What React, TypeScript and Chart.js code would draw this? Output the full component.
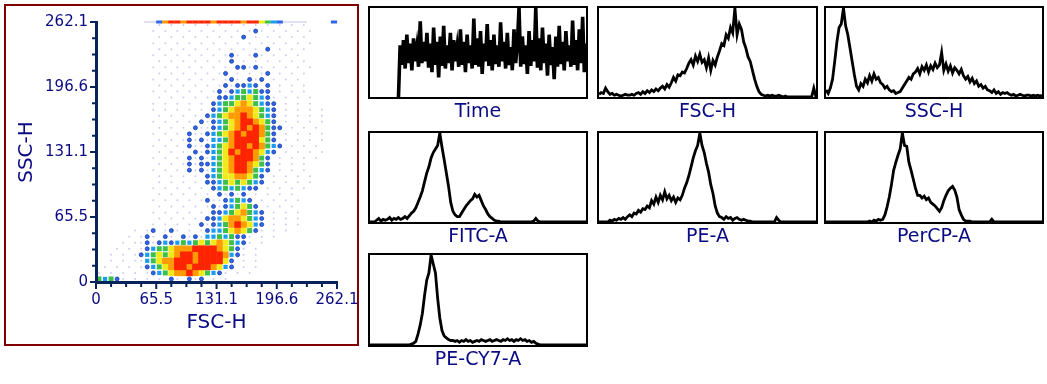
import React, { useEffect, useRef } from "react";
import { Chart, registerables } from "chart.js";

Chart.register(...registerables);

// ---------------- data ----------------
const AXIS_MAX = 262.1;
const AXIS_TICKS = [0, 65.5, 131.1, 196.6, 262.1];
const AXIS_TICK_LABELS = ["0", "65.5", "131.1", "196.6", "262.1"];
const AXIS_MINOR_DIVISIONS = 4;
const X_TITLE = "FSC-H";
const Y_TITLE = "SSC-H";

// density read from the FSC-H / SSC-H dot plot (40 columns, top row first)
// ' ' none, '.' sparse events, 'b' blue, 'c' cyan, 'g' green, 'y' yellow, 'o' orange, 'r' red
const DENSITY_TOP_EDGE = "        ..borrorrrrorrrrorrygcb....    b";
const DENSITY_ROWS = [
  "          . . . . . . . . . . . . .",
  "         . . . . . . . . .b. . . . .",
  "          . . . . . . . b . . . . .",
  "         . . . . . . . . . . . . . .",
  "          . . . . . . . . . b . . .",
  "         . . . . . . .b. .b. . . .",
  "          . . . . . . b . . . . . .",
  "         . . . . . . . bb.b. . . . .",
  "          . . . . . .b . . .b . . .",
  "         . . . . . . .b. b.b . . .",
  "          . . . . . .b.bbcb b . . .",
  "         . . . . . .b.bcgcgbb . . .",
  "          . . . . . bbcggygcb. . . .",
  "         . . . . . bcggyoygcbb . . .",
  "         . . . . . bcgyoooygcb . . . .",
  "          . . . . bcgyooroygcb . . . .",
  "         . . . . b.bcgyorroygb . . . .",
  "          . . . b..bcgyororogbb . . .",
  "         . . . b..bcgyororrogb . . . .",
  "          . . .b.b.ccgorrrrygb . . . .",
  "         . . . b..bcgyorrorogcb . . .",
  "          . . . b.bcgyrorroycb . . . .",
  "         . . . b.b.cgyorrrogb . . . .",
  "          . . .b.bbcgyorroygb . . .",
  "         . . . b.b.cgyorrogcb . . .",
  "          . . . . bcgyyooygb . . . .",
  "          . . . . bbcgygygcb . . . .",
  "         . . . . . bcgcgcbb . . . .",
  "          . . . . . b.b.b . . . .",
  "         . . . . .b..bcgcb . . . .",
  "          . . . . .b.bcgygb . . .",
  "         . . . . . bbcgyogcb . . .",
  "          . . . . bbcyooygcb . . .",
  "         . . . . b.bcgoroycb . . .",
  "      . .b .b. . .bccgyoygb. . .",
  "     . .b. b. b.b.ccgcgbb. . .",
  "    . ..b.bcbcgcgygyoygcb. .",
  "   . . .bcggyooorrrroygb. .",
  "  . . .bcgygyorrorrrrocb. .",
  "  . . ..cgyoorrrorrrryb . .",
  " . . . .bcgyorrorrroycb . .",
  ". . . . .bcgyooroygcb. . .",
  "gcgb. . . . b. b.b . .",
];

const HIST_TITLES = ["Time", "FSC-H", "SSC-H", "FITC-A", "PE-A", "PerCP-A", "PE-CY7-A"];

const TIME_COUNTS = [
  null, null, null, null, null, null, null, null, null, null,
  null, null, null, null, null, null, null, 0,
  58, 36, 64, 32, 70, 38, 60, 30, 66, 40,
  56, 34, 85, 38, 62, 40, 72, 33, 60, 28,
  78, 36, 62, 22, 68, 35, 80, 32, 58, 38,
  72, 30, 64, 40, 56, 34, 76, 36, 62, 28,
  70, 38, 58, 32, 88, 36, 66, 34, 74, 26,
  60, 40, 82, 35, 64, 30, 70, 37, 58, 34,
  84, 40, 62, 32, 72, 36, 56, 30, 76, 38,
  60, 100, 34, 68, 37, 58, 26, 74, 35, 64,
  40, 100, 33, 66, 30, 78, 38, 60, 24, 70,
  36, 56, 20, 68, 34, 80, 37, 62, 30, 74,
  40, 58, 34, 86, 36, 64, 30, 76, 38, 90,
  28, 60,
];

const FSC_H_COUNTS = [
  3, 5, 4, 10, 6, 3, 4, 2, 3, 2, 1, 2, 3, 2, 2, 3, 2, 4,
  5, 3, 6, 4, 7, 5, 8, 6, 9, 7, 10,
  12, 9, 14, 11, 16,
  22, 18, 25, 24, 28, 27, 32,
  38, 42, 36, 46, 40, 48, 39,
  42, 33, 44, 30, 41, 36, 45,
  52, 60, 58, 70, 66, 78,
  72, 100, 70, 82, 76,
  62, 55, 45, 40,
  30, 20, 12, 6, 3,
  2, 1, 2, 1, 2, 1, 1, 2, 1, 0, 1, 0,
  0, 0, 0, 0, 0, 0, 0, 0, 0, 0, 0,
  10, 0,
];

const SSC_H_COUNTS = [
  8, 4, 10,
  20, 40, 62, 78, 82,
  100,
  80, 70, 55, 40, 25, 12, 8,
  15, 12, 20, 16, 24, 18, 26, 20, 22, 16,
  14, 10, 12, 8, 6, 7, 4, 5, 6,
  10, 14, 18, 22, 20, 26,
  28, 32, 26, 34, 30, 36, 28, 35, 31, 38, 33, 36, 50, 30, 37, 29, 35, 27, 33, 30, 26, 31,
  24, 20, 23, 17, 21, 15, 18, 12, 14, 10, 12, 8,
  7, 5, 8, 4, 6, 3, 5, 4, 5,
  3, 2, 3, 1, 2, 3, 2, 1, 2, 2, 1, 2, 1, 2, 1, 2,
];

const FITC_A_COUNTS = [
  0, 0, 0,
  2, 4, 1, 3, 2, 3, 5, 2, 4, 3, 5, 3, 4, 6, 4, 7,
  10, 12, 16, 22, 28, 35,
  45, 55, 62, 72,
  78, 82, 86, 100,
  84, 70,
  55, 40, 22, 12,
  8, 6, 6, 10,
  14, 18, 21, 24, 26,
  31, 28, 30, 24,
  18, 14, 9, 6, 4,
  2, 1, 1, 0,
  0, 0, 0, 0, 0, 0, 0, 0, 0, 0, 0, 0, 0, 0,
  1, 4, 1,
  0, 0, 0, 0, 0, 0, 0, 0, 0, 0, 0, 0, 0, 0, 0, 0, 0, 0, 0, 0, 0, 0,
];

const PE_A_COUNTS = [
  0, 0, 0, 0, 0,
  2, 1, 3, 2, 4, 3, 5, 3, 6,
  8, 6, 10, 9, 13, 11, 15, 14, 18, 16,
  24, 20, 28, 22, 30, 25, 34,
  26, 30, 24, 28, 22, 27, 25,
  30, 38, 44, 52, 62,
  72, 80, 86, 100, 86,
  78, 66, 56, 42, 32,
  18, 10, 6,
  5, 3, 6, 4, 5, 2, 4, 5, 3, 2, 3, 2,
  1, 1, 0,
  0, 0, 0, 0, 0, 0, 0, 0, 0, 0,
  5, 2,
  0, 0, 0, 0, 0, 0, 0, 0, 0, 0, 0, 0, 0, 0, 0, 0, 0,
];

const PERCP_A_COUNTS = [
  0, 0, 0, 0, 0, 0, 0, 0, 0, 0, 0, 0, 0, 0, 0, 0, 0, 0, 0, 0,
  1, 0, 2, 1, 3, 2,
  3, 8, 17, 28, 42,
  58, 67, 75, 82,
  100, 86, 85,
  67, 58, 48, 38, 30,
  30, 27, 29, 25, 27, 22, 20, 18,
  15, 12, 16,
  24, 30, 35, 38, 40,
  36, 28, 14, 8, 3, 1,
  1, 1, 0, 0, 0, 0, 0, 0, 0, 0,
  0, 3, 0,
  0, 0, 0, 0, 0, 0, 0, 0, 0, 0, 0, 0, 0, 0, 0, 0, 0, 0, 0, 0, 0, 0,
];

const PE_CY7_A_COUNTS = [
  0, 0, 0, 0, 0, 0, 0, 0, 0, 0, 0, 0, 0, 0, 0, 0, 0, 0,
  0, 1, 2, 4,
  12, 22, 35, 55,
  72, 80, 100,
  90, 80,
  52, 30, 16, 10,
  8, 6, 5, 5,
  4, 5, 3, 5, 4, 6, 4, 5, 3, 4, 5, 4, 6, 5, 4, 5, 6, 4, 5, 6,
  5, 4, 6, 5, 7, 5, 6, 4, 6, 5, 7, 5, 6, 4, 5, 3, 4, 2, 1,
  0, 0, 0, 0, 0, 0, 0, 0, 0, 0, 0, 0, 0, 0, 0, 0, 0, 0, 0, 0, 0, 0,
];

const HIST_COUNTS = [
  TIME_COUNTS, FSC_H_COUNTS, SSC_H_COUNTS, FITC_A_COUNTS, PE_A_COUNTS, PERCP_A_COUNTS, PE_CY7_A_COUNTS,
];

// ---------------- layout & style ----------------
const FONT = "'DejaVu Sans', Verdana, sans-serif";
const LABEL_COLOR = "#0a0a84";
const AXIS_LINE_COLOR = "#062459";
const PANEL_BORDER = "#800000";

const HIST_LAYOUT = [
  { left: 368, top: 6, width: 220, height: 93, line: 3.6 },
  { left: 597, top: 6, width: 221, height: 93, line: 2.8 },
  { left: 824, top: 6, width: 220, height: 93, line: 2.8 },
  { left: 368, top: 131, width: 220, height: 93, line: 2.8 },
  { left: 597, top: 131, width: 221, height: 93, line: 2.8 },
  { left: 824, top: 131, width: 220, height: 93, line: 2.8 },
  { left: 368, top: 253, width: 220, height: 94, line: 2.8 },
];

const LEVEL_ORDER = ["r", "o", "y", "g", "c", "b", "."]; // first = drawn on top
const LEVEL_STYLE: Record<string, { color: string; style: string; size: number }> = {
  r: { color: "#ff2400", style: "rect", size: 6.6 },
  o: { color: "#ff9a00", style: "rect", size: 6.4 },
  y: { color: "#f0ea1a", style: "rect", size: 6.0 },
  g: { color: "#3cc04a", style: "rect", size: 5.0 },
  c: { color: "#1c9cee", style: "rect", size: 4.2 },
  b: { color: "#2f66ee", style: "circle", size: 4.0 },
  ".": { color: "rgba(130,130,220,0.4)", style: "circle", size: 2.0 },
};

const flowAxesPlugin = {
  id: "flowAxes",
  afterDraw(chart: any) {
    const { ctx, chartArea, scales } = chart;
    const { left, right, top, bottom } = chartArea;
    const xs = scales.x;
    const ys = scales.y;
    ctx.save();
    ctx.strokeStyle = AXIS_LINE_COLOR;
    ctx.lineWidth = 3;
    ctx.beginPath();
    ctx.moveTo(left + 0.5, top - 1);
    ctx.lineTo(left + 0.5, bottom + 2);
    ctx.moveTo(left - 1, bottom + 0.5);
    ctx.lineTo(right + 1, bottom + 0.5);
    ctx.stroke();
    ctx.lineWidth = 2;
    ctx.beginPath();
    for (let i = 0; i < AXIS_TICKS.length; i++) {
      const v = AXIS_TICKS[i];
      const px = xs.getPixelForValue(v);
      const py = ys.getPixelForValue(v);
      ctx.moveTo(px, bottom + 2);
      ctx.lineTo(px, bottom + 7);
      ctx.moveTo(left - 1, py);
      ctx.lineTo(left - 6, py);
      if (i < AXIS_TICKS.length - 1) {
        const step = (AXIS_TICKS[i + 1] - v) / AXIS_MINOR_DIVISIONS;
        for (let k = 1; k < AXIS_MINOR_DIVISIONS; k++) {
          const mx = xs.getPixelForValue(v + k * step);
          const my = ys.getPixelForValue(v + k * step);
          ctx.moveTo(mx, bottom + 2);
          ctx.lineTo(mx, bottom + 5);
          ctx.moveTo(left - 1, my);
          ctx.lineTo(left - 4, my);
        }
      }
    }
    ctx.stroke();

    ctx.fillStyle = LABEL_COLOR;
    ctx.font = `15px ${FONT}`;
    ctx.textAlign = "center";
    ctx.textBaseline = "top";
    AXIS_TICK_LABELS.forEach((t, i) => ctx.fillText(t, xs.getPixelForValue(AXIS_TICKS[i]), bottom + 11));
    ctx.textAlign = "right";
    ctx.textBaseline = "middle";
    AXIS_TICK_LABELS.forEach((t, i) => ctx.fillText(t, left - 8, ys.getPixelForValue(AXIS_TICKS[i])));

    ctx.font = `20px ${FONT}`;
    ctx.textAlign = "center";
    ctx.textBaseline = "middle";
    ctx.fillText(X_TITLE, (left + right) / 2, bottom + 41);
    ctx.translate(21, (top + bottom) / 2);
    ctx.rotate(-Math.PI / 2);
    ctx.fillText(Y_TITLE, 0, 0);
    ctx.restore();
  },
};

function DensityPlot() {
  const ref = useRef<HTMLCanvasElement>(null);
  useEffect(() => {
    if (!ref.current) return;
    const cols = 40;
    const cellW = AXIS_MAX / cols;
    const cellH = AXIS_MAX / DENSITY_ROWS.length;
    const datasets: any[] = [];
    for (const lvl of LEVEL_ORDER) {
      const st = LEVEL_STYLE[lvl];
      const pts: { x: number; y: number }[] = [];
      DENSITY_TOP_EDGE.split("").forEach((k, c) => {
        if (k === lvl) pts.push({ x: (c + 0.5) * cellW, y: AXIS_MAX });
      });
      datasets.push({
        data: pts,
        pointStyle: "line",
        pointRadius: 3.1,
        pointBorderWidth: lvl === "." ? 1.2 : 3,
        pointBorderColor: st.color,
        pointBackgroundColor: st.color,
        clip: false,
      });
    }
    for (const lvl of LEVEL_ORDER) {
      const st = LEVEL_STYLE[lvl];
      const pts: { x: number; y: number }[] = [];
      DENSITY_ROWS.forEach((row, r) => {
        for (let c = 0; c < row.length; c++) {
          if (row[c] === lvl) pts.push({ x: (c + 0.5) * cellW, y: AXIS_MAX - (r + 0.5) * cellH });
        }
      });
      datasets.push({
        data: pts,
        pointStyle: st.style,
        pointRadius: st.style === "rect" ? st.size / Math.SQRT2 : st.size / 2,
        pointBorderWidth: lvl === "b" ? 0.8 : 0,
        pointBackgroundColor: st.color,
        pointBorderColor: lvl === "b" ? "#1438a8" : st.color,
        clip: false,
      });
    }
    const chart = new Chart(ref.current, {
      type: "scatter",
      data: { datasets },
      options: {
        animation: false,
        responsive: false,
        events: [],
        layout: { padding: { left: 90, right: 20, top: 16, bottom: 62 } },
        scales: {
          x: { type: "linear", min: 0, max: AXIS_MAX, display: false },
          y: { type: "linear", min: 0, max: AXIS_MAX, display: false },
        },
        plugins: { legend: { display: false }, tooltip: { enabled: false } },
      },
      plugins: [flowAxesPlugin],
    } as any);
    return () => chart.destroy();
  }, []);
  return (
    <div
      style={{
        position: "absolute",
        left: 4,
        top: 4,
        width: 351,
        height: 338,
        border: `2px solid ${PANEL_BORDER}`,
        background: "#fff",
      }}
    >
      <canvas ref={ref} width={351} height={338} style={{ position: "absolute", left: 0, top: 0, width: 351, height: 338 }} />
    </div>
  );
}

function makeFramePlugin(title: string) {
  return {
    id: "histFrame",
    afterDraw(chart: any) {
      const { ctx, chartArea } = chart;
      const { left, right, top, bottom } = chartArea;
      ctx.save();
      ctx.strokeStyle = "#000";
      ctx.lineWidth = 2;
      ctx.strokeRect(left - 1, top - 1, right - left + 2, bottom - top + 2);
      ctx.fillStyle = LABEL_COLOR;
      ctx.font = `19px ${FONT}`;
      ctx.textAlign = "center";
      ctx.textBaseline = "middle";
      ctx.fillText(title, (left + right) / 2, bottom + 15);
      ctx.restore();
    },
  };
}

function Histogram({ index }: { index: number }) {
  const ref = useRef<HTMLCanvasElement>(null);
  const lay = HIST_LAYOUT[index];
  const canvasH = lay.height + 30;
  useEffect(() => {
    if (!ref.current) return;
    const counts = HIST_COUNTS[index];
    const chart = new Chart(ref.current, {
      type: "line",
      data: {
        datasets: [
          {
            data: counts.map((v, i) => ({ x: i, y: v })),
            borderColor: "#000",
            borderWidth: lay.line,
            pointRadius: 0,
            tension: 0,
            fill: false,
            spanGaps: false,
            borderJoinStyle: "miter",
          },
        ],
      },
      options: {
        animation: false,
        responsive: false,
        events: [],
        layout: { padding: { left: 2, right: 2, top: 2, bottom: 32 } },
        scales: {
          x: { type: "linear", min: 0, max: counts.length - 1, display: false },
          y: { type: "linear", min: 0, max: 100, display: false },
        },
        plugins: { legend: { display: false }, tooltip: { enabled: false } },
      },
      plugins: [makeFramePlugin(HIST_TITLES[index])],
    } as any);
    return () => chart.destroy();
  }, [index]);
  return (
    <canvas
      ref={ref}
      width={lay.width}
      height={canvasH}
      style={{ position: "absolute", left: lay.left, top: lay.top, width: lay.width, height: canvasH }}
    />
  );
}

export default function App() {
  return (
    <div style={{ position: "absolute", left: 0, top: 0, width: 1047, height: 384, background: "#fff", overflow: "hidden" }}>
      <DensityPlot />
      {HIST_TITLES.map((_, i) => (
        <Histogram key={i} index={i} />
      ))}
    </div>
  );
}
